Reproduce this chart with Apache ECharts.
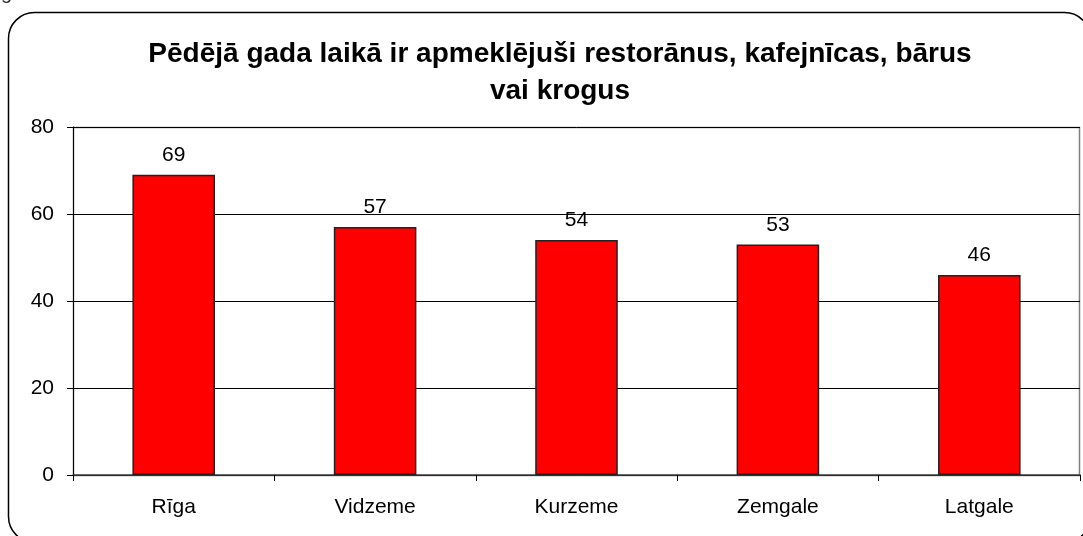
<!DOCTYPE html>
<html>
<head>
<meta charset="utf-8">
<script src="https://cdn.jsdelivr.net/npm/echarts@6/dist/echarts.min.js"></script>
<style>
  html, body { margin: 0; padding: 0; background: #fff; }
  #chart { width: 1083px; height: 536px; }
</style>
</head>
<body>
<div id="chart"></div>
<script>
// data
let regions = ['Rīga', 'Vidzeme', 'Kurzeme', 'Zemgale', 'Latgale'];
let visited = [69, 57, 54, 53, 46];
let titleText = 'Pēdējā gada laikā ir apmeklējuši restorānus, kafejnīcas, bārus\nvai krogus';

let myChart = echarts.init(document.getElementById('chart'));
let font = 'Liberation Sans, Arial, sans-serif';

let option = {
  backgroundColor: '#fff',
  animation: false,
  title: {
    text: titleText,
    left: 555,
    top: 31,
    textAlign: 'center',
    textStyle: {
      fontFamily: font,
      fontSize: 28,
      fontWeight: 'bold',
      color: '#000',
      lineHeight: 37
    }
  },
  graphic: [
    {
      // cut-off glyph from the page above
      type: 'text',
      style: {
        text: 'g',
        x: 1,
        y: -17,
        verticalAlign: 'top',
        fontSize: 20,
        fontFamily: font,
        fill: '#333'
      },
      silent: true
    },
    {
      type: 'rect',
      shape: { x: 8.5, y: 12.5, width: 1082, height: 530, r: 26 },
      style: { fill: 'none', stroke: '#000', lineWidth: 1.5 },
      silent: true
    },
    {
      // rectangle round the plot area
      type: 'rect',
      shape: { x: 73.5, y: 127.5, width: 1006, height: 348 },
      style: { fill: 'none', stroke: '#808080', lineWidth: 1.5 },
      silent: true,
      z: -1
    }
  ],
  grid: {
    left: 73,
    right: 3,
    top: 127,
    bottom: 61
  },
  xAxis: {
    type: 'category',
    data: regions,
    axisLine: { lineStyle: { color: '#404040', width: 1.5 } },
    axisTick: { show: true, length: 6, lineStyle: { color: '#000' } },
    axisLabel: {
      fontFamily: font,
      fontSize: 21,
      color: '#000',
      margin: 22
    }
  },
  yAxis: {
    type: 'value',
    min: 0,
    max: 80,
    interval: 20,
    axisLine: { show: true, lineStyle: { color: '#000', width: 1 } },
    axisTick: { show: true, length: 6, lineStyle: { color: '#000' } },
    axisLabel: {
      fontFamily: font,
      fontSize: 21,
      color: '#000',
      margin: 19
    },
    splitLine: { show: true, lineStyle: { color: '#000', width: 1 } }
  },
  series: [
    {
      type: 'bar',
      data: visited,
      barWidth: '41%',
      itemStyle: {
        color: '#ff0000',
        borderColor: '#222',
        borderWidth: 1.5
      },
      label: {
        show: true,
        position: 'top',
        distance: 9,
        fontFamily: font,
        fontSize: 21,
        color: '#000'
      }
    }
  ]
};

myChart.setOption(option, true);
</script>
</body>
</html>
